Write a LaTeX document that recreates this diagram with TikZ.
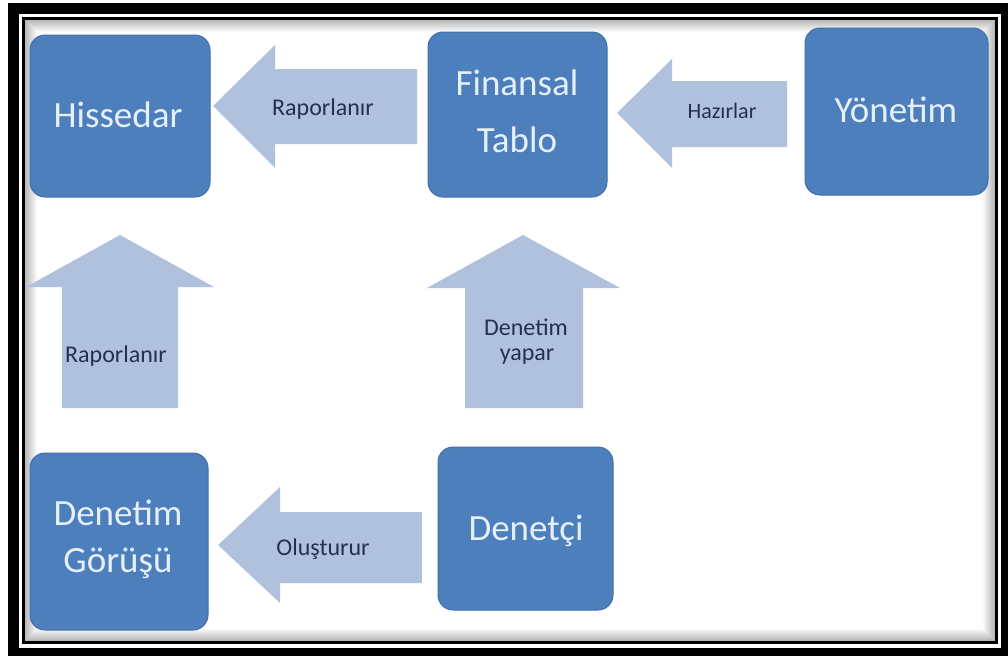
\documentclass[tikz,border=0pt]{standalone}
\usepackage{fontspec}
\setmainfont{Carlito}
\definecolor{boxfill}{RGB}{76,127,188}
\definecolor{boxedge}{RGB}{66,112,168}
\definecolor{boxtxt}{RGB}{230,240,250}
\definecolor{arrowfill}{RGB}{176,193,221}
\definecolor{arrowtxt}{RGB}{36,48,78}
\begin{document}
\begin{tikzpicture}[x=1pt,y=-1pt,
  box/.style={draw=boxedge, fill=boxfill, rounded corners=15pt, line width=1pt, inner sep=0pt},
  boxtext/.style={text=boxtxt, font=\fontsize{37}{44}\selectfont, anchor=base, inner sep=0pt},
  blockarrow/.style={fill=arrowfill},
  arrowtext/.style={text=arrowtxt, font=\fontsize{24}{29}\selectfont, anchor=base, inner sep=0pt}]

% page area and double frame
\useasboundingbox (0,0) rectangle (1008,656);
\fill[white] (0,0) rectangle (1008,656);
\fill[black] (8,3) rectangle (1008,656);
\fill[white] (19,14) rectangle (1001,648);
\fill[black] (22,17) rectangle (998,644);
\fill[white] (25,20) rectangle (995,641);
% soft inner shadow along the frame
\foreach \i in {0,...,11} {
  \pgfmathsetmacro{\op}{0.28*(1-\i/12)}
  \draw[black, opacity=\op, line width=1pt]
    (25.5+\i,20.5+\i) rectangle (994.5-\i,640.5-\i);
}

% block arrows
\fill[blockarrow] (213,106) -- (275,45) -- (275,69) -- (417,69) -- (417,144)
  -- (275,144) -- (275,168) -- cycle;
\fill[blockarrow] (617,113) -- (672,59) -- (672,81) -- (787,81) -- (787,147)
  -- (672,147) -- (672,168) -- cycle;
\fill[blockarrow] (120,235) -- (214,287) -- (178,287) -- (178,408) -- (62,408)
  -- (62,287) -- (26,287) -- cycle;
\fill[blockarrow] (523,235) -- (620,288) -- (583,288) -- (583,408) -- (465,408)
  -- (465,288) -- (427,288) -- cycle;
\fill[blockarrow] (218,545) -- (280,487) -- (280,512) -- (422,512) -- (422,583)
  -- (280,583) -- (280,603) -- cycle;

% arrow labels
\node[arrowtext] (l-rap1) at (323,115) {Raporlanır};
\node[arrowtext, font=\fontsize{22}{27}\selectfont] (l-haz) at (722,118) {Hazırlar};
\node[arrowtext] (l-rap2) at (116,362) {Raporlanır};
\node[arrowtext] (l-den1) at (526,335) {Denetim};
\node[arrowtext] (l-den2) at (527,360) {yapar};
\node[arrowtext] (l-olu) at (323,555) {Oluşturur};

% boxes
\node[box, minimum width=180pt, minimum height=162pt] (hissedar) at (120,116) {};
\node[box, minimum width=179pt, minimum height=165pt] (finansal) at (517.5,114.5) {};
\node[box, minimum width=183pt, minimum height=167pt] (yonetim) at (896.5,111.5) {};
\node[box, minimum width=178pt, minimum height=177pt] (gorus) at (119,541.5) {};
\node[box, minimum width=175pt, minimum height=163pt] (denetci) at (525.5,528.5) {};

% box labels
\node[boxtext] (t-hissedar) at (118,127) {Hissedar};
\node[boxtext] (t-fin1) at (517,95) {Finansal};
\node[boxtext] (t-fin2) at (517,152) {Tablo};
\node[boxtext] (t-yonetim) at (896,122) {Yönetim};
\node[boxtext] (t-gor1) at (118,525) {Denetim};
\node[boxtext] (t-gor2) at (118,572) {Görüşü};
\node[boxtext] (t-denetci) at (526,540) {Denetçi};
\end{tikzpicture}
\end{document}
